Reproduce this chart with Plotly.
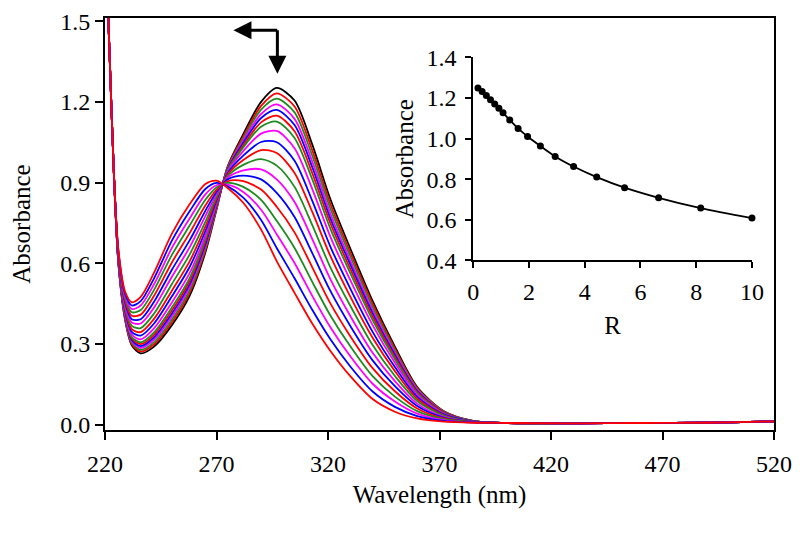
import plotly.graph_objects as go

# ---------------- data ----------------
# wavelengths (nm); the steep UV edge and the flat baseline are common to all spectra
edge_wl = [220, 222, 224]
edge_abs = [1.85, 1.39, 0.93]
mid_wl = [226, 229, 232, 236, 242, 250, 258, 265, 270, 275, 282,
          290, 297, 305, 313, 321, 330, 340, 350, 360, 372, 385]
tail_wl = [400, 430, 460, 490, 520]
tail_abs = [0.006, 0.005, 0.006, 0.007, 0.012]

# absorbance of each titration spectrum on mid_wl (first = start, last = end)
abs_00 = [0.600, 0.390, 0.295, 0.265, 0.290, 0.370, 0.480, 0.640, 0.800, 0.960, 1.080, 1.200, 1.252, 1.205, 1.040, 0.840, 0.655, 0.460, 0.290, 0.140, 0.050, 0.014]
abs_01 = [0.602, 0.393, 0.300, 0.272, 0.299, 0.381, 0.491, 0.648, 0.803, 0.958, 1.072, 1.185, 1.232, 1.183, 1.019, 0.822, 0.640, 0.449, 0.282, 0.136, 0.049, 0.014]
abs_02 = [0.603, 0.397, 0.305, 0.278, 0.307, 0.391, 0.501, 0.656, 0.807, 0.955, 1.064, 1.171, 1.212, 1.161, 0.999, 0.805, 0.626, 0.437, 0.275, 0.133, 0.048, 0.014]
abs_03 = [0.605, 0.400, 0.310, 0.285, 0.316, 0.402, 0.512, 0.664, 0.810, 0.952, 1.056, 1.155, 1.191, 1.137, 0.977, 0.786, 0.610, 0.425, 0.267, 0.129, 0.046, 0.013]
abs_04 = [0.606, 0.403, 0.315, 0.292, 0.325, 0.413, 0.523, 0.672, 0.814, 0.950, 1.048, 1.140, 1.170, 1.114, 0.956, 0.768, 0.595, 0.414, 0.259, 0.125, 0.045, 0.013]
abs_05 = [0.608, 0.407, 0.321, 0.299, 0.334, 0.424, 0.534, 0.681, 0.817, 0.947, 1.039, 1.124, 1.149, 1.091, 0.934, 0.750, 0.579, 0.402, 0.251, 0.121, 0.044, 0.013]
abs_06 = [0.610, 0.410, 0.326, 0.306, 0.343, 0.436, 0.546, 0.690, 0.821, 0.945, 1.031, 1.108, 1.127, 1.066, 0.911, 0.730, 0.563, 0.389, 0.243, 0.117, 0.042, 0.013]
abs_07 = [0.612, 0.416, 0.335, 0.317, 0.358, 0.454, 0.564, 0.703, 0.827, 0.940, 1.017, 1.082, 1.092, 1.028, 0.875, 0.700, 0.537, 0.370, 0.230, 0.111, 0.040, 0.012]
abs_08 = [0.616, 0.423, 0.345, 0.331, 0.376, 0.477, 0.587, 0.720, 0.834, 0.935, 1.000, 1.051, 1.050, 0.981, 0.831, 0.663, 0.506, 0.345, 0.214, 0.103, 0.038, 0.012]
abs_09 = [0.619, 0.430, 0.355, 0.344, 0.393, 0.498, 0.608, 0.736, 0.840, 0.930, 0.984, 1.021, 1.010, 0.936, 0.790, 0.628, 0.476, 0.323, 0.199, 0.096, 0.035, 0.011]
abs_10 = [0.623, 0.437, 0.367, 0.359, 0.413, 0.523, 0.633, 0.754, 0.848, 0.924, 0.966, 0.987, 0.963, 0.884, 0.741, 0.586, 0.442, 0.296, 0.181, 0.088, 0.033, 0.011]
abs_11 = [0.626, 0.445, 0.380, 0.376, 0.435, 0.550, 0.660, 0.775, 0.857, 0.918, 0.945, 0.949, 0.912, 0.828, 0.689, 0.542, 0.404, 0.267, 0.162, 0.078, 0.029, 0.010]
abs_12 = [0.630, 0.454, 0.392, 0.392, 0.457, 0.576, 0.686, 0.795, 0.865, 0.912, 0.926, 0.912, 0.862, 0.772, 0.637, 0.498, 0.367, 0.239, 0.143, 0.069, 0.026, 0.010]
abs_13 = [0.634, 0.462, 0.405, 0.409, 0.479, 0.603, 0.713, 0.815, 0.873, 0.905, 0.905, 0.874, 0.810, 0.715, 0.584, 0.452, 0.329, 0.210, 0.124, 0.060, 0.023, 0.009]
abs_14 = [0.638, 0.471, 0.418, 0.426, 0.501, 0.631, 0.741, 0.836, 0.882, 0.899, 0.884, 0.836, 0.758, 0.657, 0.530, 0.407, 0.291, 0.180, 0.104, 0.050, 0.020, 0.009]
abs_15 = [0.642, 0.479, 0.430, 0.443, 0.522, 0.657, 0.767, 0.856, 0.890, 0.892, 0.865, 0.799, 0.708, 0.601, 0.478, 0.363, 0.254, 0.152, 0.086, 0.041, 0.017, 0.008]
abs_16 = [0.646, 0.487, 0.443, 0.459, 0.544, 0.684, 0.794, 0.876, 0.899, 0.886, 0.844, 0.761, 0.657, 0.544, 0.426, 0.318, 0.216, 0.123, 0.066, 0.032, 0.014, 0.008]
abs_17 = [0.650, 0.495, 0.455, 0.475, 0.565, 0.710, 0.820, 0.895, 0.907, 0.880, 0.825, 0.725, 0.608, 0.490, 0.375, 0.275, 0.180, 0.095, 0.048, 0.023, 0.011, 0.007]

spectra = [abs_00, abs_01, abs_02, abs_03, abs_04, abs_05, abs_06, abs_07, abs_08,
           abs_09, abs_10, abs_11, abs_12, abs_13, abs_14, abs_15, abs_16, abs_17]
line_colors = ["#000000", "#ff0000", "#1f8a1f", "#ff00ff", "#0000ff",
               "#ff0000", "#1f8a1f", "#ff00ff", "#0000ff",
               "#ff0000", "#1f8a1f", "#ff00ff", "#0000ff",
               "#ff0000", "#1f8a1f", "#ff00ff", "#0000ff", "#ff0000"]

# inset: absorbance at band maximum vs R
inset_R = [0.17, 0.32, 0.47, 0.62, 0.77, 0.92, 1.07, 1.31, 1.61, 1.95,
           2.41, 2.94, 3.60, 4.43, 5.43, 6.65, 8.16, 10.0]
inset_abs = [1.250, 1.232, 1.212, 1.191, 1.170, 1.149, 1.127, 1.092, 1.050, 1.010,
             0.963, 0.912, 0.862, 0.810, 0.758, 0.708, 0.657, 0.608]

x_ticks = [220, 270, 320, 370, 420, 470, 520]
y_ticks = [0.0, 0.3, 0.6, 0.9, 1.2, 1.5]
inset_x_ticks = [0, 2, 4, 6, 8, 10]
inset_y_ticks = [0.4, 0.6, 0.8, 1.0, 1.2, 1.4]

# ---------------- figure ----------------
FONT = "Liberation Serif"
TICK_SIZE = 24
TITLE_SIZE = 25
fig = go.Figure()

wl_all = edge_wl + mid_wl + tail_wl
for spec, col in zip(spectra, line_colors):
    fig.add_trace(go.Scatter(
        x=wl_all, y=edge_abs + spec + tail_abs, mode="lines",
        line=dict(color=col, width=1.8, shape="spline", smoothing=0.8),
        showlegend=False, xaxis="x", yaxis="y"))

fig.add_trace(go.Scatter(
    x=inset_R, y=inset_abs, mode="lines+markers",
    line=dict(color="black", width=1.8, shape="spline", smoothing=0.8),
    marker=dict(color="black", size=7), cliponaxis=False,
    showlegend=False, xaxis="x2", yaxis="y2"))

axis_common = dict(showgrid=False, zeroline=False, showline=True, linecolor="black",
                   linewidth=2, ticks="outside", tickcolor="black", tickwidth=2,
                   automargin=False, ticklabeloverflow="allow",
                   tickfont=dict(family=FONT, size=TICK_SIZE, color="black"))

# the page adds an 8px body margin, so margins are offset by 8px
fig.update_layout(
    width=800, height=538,
    margin=dict(l=97, r=34, t=10, b=116),
    paper_bgcolor="white", plot_bgcolor="white",
    font=dict(family=FONT, color="black"),
    xaxis=dict(range=[220, 520], tickvals=x_ticks, ticklen=8, mirror=True,
               ticklabelstandoff=3,
               title=dict(text="Wavelength (nm)", font=dict(family=FONT, size=TITLE_SIZE), standoff=10),
               **axis_common),
    yaxis=dict(range=[-0.02, 1.512], tickvals=y_ticks, tickformat=".1f", ticklen=8, mirror=True,
               title=dict(text="Absorbance", font=dict(family=FONT, size=TITLE_SIZE), standoff=27),
               **axis_common),
    xaxis2=dict(domain=[0.5504, 0.9671], anchor="y2", range=[0, 10], tickvals=inset_x_ticks,
                ticklen=6, ticklabelstandoff=3,
                title=dict(text="R", font=dict(family=FONT, size=TITLE_SIZE), standoff=12),
                **axis_common),
    yaxis2=dict(domain=[0.4121, 0.9042], anchor="x2", range=[0.4, 1.4], tickvals=inset_y_ticks,
                tickformat=".1f", ticklen=6, ticklabelstandoff=4,
                title=dict(text="Absorbance", font=dict(family=FONT, size=TITLE_SIZE), standoff=6),
                **axis_common),
)

# corner arrow (down + left)
arrow_x0, arrow_y0 = 297.3, 1.466
fig.add_annotation(x=277.6, y=arrow_y0, ax=arrow_x0 + 0.6, ay=arrow_y0, xref="x", yref="y",
                   axref="x", ayref="y", showarrow=True, arrowhead=2, arrowsize=1.2,
                   arrowwidth=3, arrowcolor="black", text="")
fig.add_annotation(x=arrow_x0, y=1.305, ax=arrow_x0, ay=arrow_y0 + 0.006, xref="x", yref="y",
                   axref="x", ayref="y", showarrow=True, arrowhead=2, arrowsize=1.2,
                   arrowwidth=3, arrowcolor="black", text="")

fig.write_html("out.html")
